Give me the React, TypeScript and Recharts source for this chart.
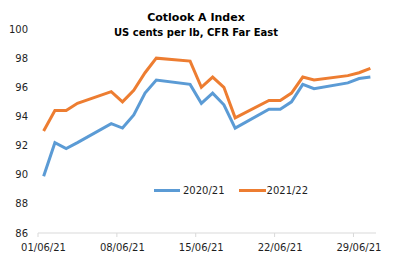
import { LineChart, Line, XAxis, YAxis, Legend } from "recharts";

const BLUE = "#5b9bd5";
const ORANGE = "#ed7d31";
const AXIS = "#d9d9d9";
const TEXT = "#1f1f1f";
const FONT = "'DejaVu Sans', Verdana, sans-serif";

// business days in June 2021
const dates = [
  "01/06/21", "02/06/21", "03/06/21", "04/06/21",
  "07/06/21", "08/06/21", "09/06/21", "10/06/21", "11/06/21",
  "14/06/21", "15/06/21", "16/06/21", "17/06/21", "18/06/21",
  "21/06/21", "22/06/21", "23/06/21", "24/06/21", "25/06/21",
  "28/06/21", "29/06/21", "30/06/21",
];
const season2021 = [
  89.9, 92.2, 91.8, 92.2,
  93.5, 93.2, 94.1, 95.6, 96.5,
  96.2, 94.9, 95.6, 94.8, 93.2,
  94.5, 94.5, 95.0, 96.2, 95.9,
  96.3, 96.6, 96.7,
];
const season2122 = [
  93.0, 94.4, 94.4, 94.9,
  95.7, 95.0, 95.8, 97.0, 98.0,
  97.8, 96.0, 96.7, 96.0, 93.9,
  95.1, 95.1, 95.6, 96.7, 96.5,
  96.8, 97.0, 97.3,
];
const xTicks = ["01/06/21", "08/06/21", "15/06/21", "22/06/21", "29/06/21"];
const yTicks = [86, 88, 90, 92, 94, 96, 98, 100];

// date axis: each day takes one slot, point sits in the middle of its slot
const dayOf = (d: string) => parseInt(d.slice(0, 2), 10);

const data = dates.map((d, i) => ({
  x: dayOf(d) - 0.5,
  a: season2021[i],
  b: season2122[i],
}));

const XTick = (props: any) => {
  const { x, y, payload } = props;
  const label = xTicks.find((t) => dayOf(t) - 1 === payload.value) ?? "";
  return (
    <text x={x + 5.5} y={y} dy="0.71em" textAnchor="middle" fill={TEXT} fontSize={10} fontFamily={FONT}>
      {label}
    </text>
  );
};

const LegendBox = () => (
  <div style={{ display: "flex", alignItems: "center", fontFamily: FONT, fontSize: 10, color: TEXT }}>
    <span style={{ width: 26, height: 3, background: BLUE, display: "inline-block", marginRight: 3 }} />
    <span style={{ marginRight: 14 }}>2020/21</span>
    <span style={{ width: 27, height: 3, background: ORANGE, display: "inline-block", marginRight: 1 }} />
    <span>2021/22</span>
  </div>
);

export default function App() {
  return (
    <div style={{ position: "absolute", left: 0, top: 0, width: 397, height: 271, background: "#fff" }}>
      <div
        style={{
          position: "absolute",
          top: 10,
          left: 0,
          width: 392,
          textAlign: "center",
          fontFamily: FONT,
          fontWeight: "bold",
          color: "#000",
          lineHeight: "15px",
        }}
      >
        <div style={{ fontSize: 11 }}>Cotlook A Index</div>
        <div style={{ fontSize: 10 }}>US cents per lb, CFR Far East</div>
      </div>
      <LineChart width={397} height={271} data={data} margin={{ top: 29, right: 21, bottom: 0, left: 0 }}>
        <XAxis
          dataKey="x"
          type="number"
          domain={[0, 30]}
          ticks={xTicks.map((t) => dayOf(t) - 1)}
          interval={0}
          height={27}
          stroke={AXIS}
          tickSize={4}
          tickMargin={7}
          tick={<XTick />}
        />
        <YAxis
          domain={[86, 100]}
          ticks={yTicks}
          width={38}
          axisLine={false}
          tickLine={false}
          tickMargin={4}
          tick={{ fill: TEXT, fontSize: 10, fontFamily: FONT }}
        />
        <Legend
          content={<LegendBox />}
          wrapperStyle={{ position: "absolute", left: 154, top: 185, width: "auto" }}
        />
        <Line dataKey="a" name="2020/21" stroke={BLUE} strokeWidth={3} dot={false} isAnimationActive={false} />
        <Line dataKey="b" name="2021/22" stroke={ORANGE} strokeWidth={3} dot={false} isAnimationActive={false} />
      </LineChart>
    </div>
  );
}
